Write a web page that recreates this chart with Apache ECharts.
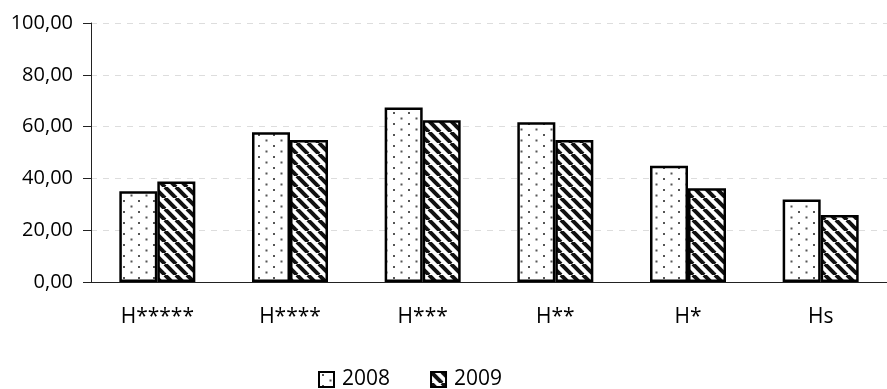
<!DOCTYPE html>
<html>
<head>
<meta charset="utf-8">
<script src="https://cdn.jsdelivr.net/npm/echarts@6/dist/echarts.min.js"></script>
<style>html,body{margin:0;padding:0;background:#fff}#c{width:887px;height:389px}</style>
</head>
<body>
<div id="c"></div>
<script>
var categories = ['H*****', 'H****', 'H***', 'H**', 'H*', 'Hs'];
var seriesNames = ['2008', '2009'];
var values2008 = [35.0, 57.8, 67.4, 61.7, 44.9, 31.9];
var values2009 = [38.8, 54.8, 62.5, 54.8, 36.2, 25.9];
var yTicks = { min: 0, max: 100, interval: 20 };

function dotPattern() {
  var c = document.createElement('canvas');
  c.width = 15; c.height = 11;
  var g = c.getContext('2d');
  g.fillStyle = '#fff'; g.fillRect(0, 0, 15, 11);
  g.fillStyle = '#555';
  g.fillRect(3, 2, 2, 2);
  g.fillRect(10.5, 7.5, 2, 2);
  return c;
}
function stripePattern() {
  var s = 11;
  var c = document.createElement('canvas');
  c.width = s; c.height = s;
  var g = c.getContext('2d');
  g.fillStyle = '#fff'; g.fillRect(0, 0, s, s);
  g.strokeStyle = '#111'; g.lineWidth = 4;
  for (var k = -1; k <= 1; k++) {
    g.beginPath(); g.moveTo(k * s, 0); g.lineTo(k * s + s, s); g.stroke();
  }
  return c;
}

var chart = echarts.init(document.getElementById('c'), null, { renderer: 'canvas' });
var font = 'Open Sans';
chart.setOption({
  animation: false,
  grid: { left: 91, right: -8, top: 23, bottom: 107, containLabel: false },
  legend: {
    left: 318, top: 369, padding: 0, itemWidth: 15, itemHeight: 15, itemGap: 40,
    icon: 'rect',
    textStyle: { fontFamily: font, fontSize: 21, color: '#000', padding: [0, 0, 0, 3] },
    data: seriesNames
  },
  xAxis: {
    type: 'category', data: categories,
    axisLine: { lineStyle: { color: '#222', width: 1 } },
    axisTick: { length: 8, lineStyle: { color: '#222' } },
    axisLabel: { interval: 0, fontFamily: font, fontSize: 21, color: '#000', margin: 25 }
  },
  yAxis: {
    type: 'value', min: yTicks.min, max: yTicks.max, interval: yTicks.interval,
    axisLine: { show: true, lineStyle: { color: '#222', width: 1 } },
    axisTick: { show: true, length: 8, lineStyle: { color: '#222' } },
    axisLabel: {
      fontFamily: font, fontSize: 20, color: '#000', margin: 18,
      formatter: function (v) { return v.toFixed(2).replace('.', ','); }
    },
    splitLine: { lineStyle: { color: '#ddd', type: [6, 6] } }
  },
  series: [
    {
      name: seriesNames[0], type: 'bar', data: values2008, barWidth: 38, barGap: '0%',
      itemStyle: { color: { image: dotPattern(), repeat: 'repeat' }, borderColor: '#000', borderWidth: 2.5 }
    },
    {
      name: seriesNames[1], type: 'bar', data: values2009, barWidth: 38,
      itemStyle: { color: { image: stripePattern(), repeat: 'repeat' }, borderColor: '#000', borderWidth: 2.5 }
    }
  ]
});
</script>
</body>
</html>
